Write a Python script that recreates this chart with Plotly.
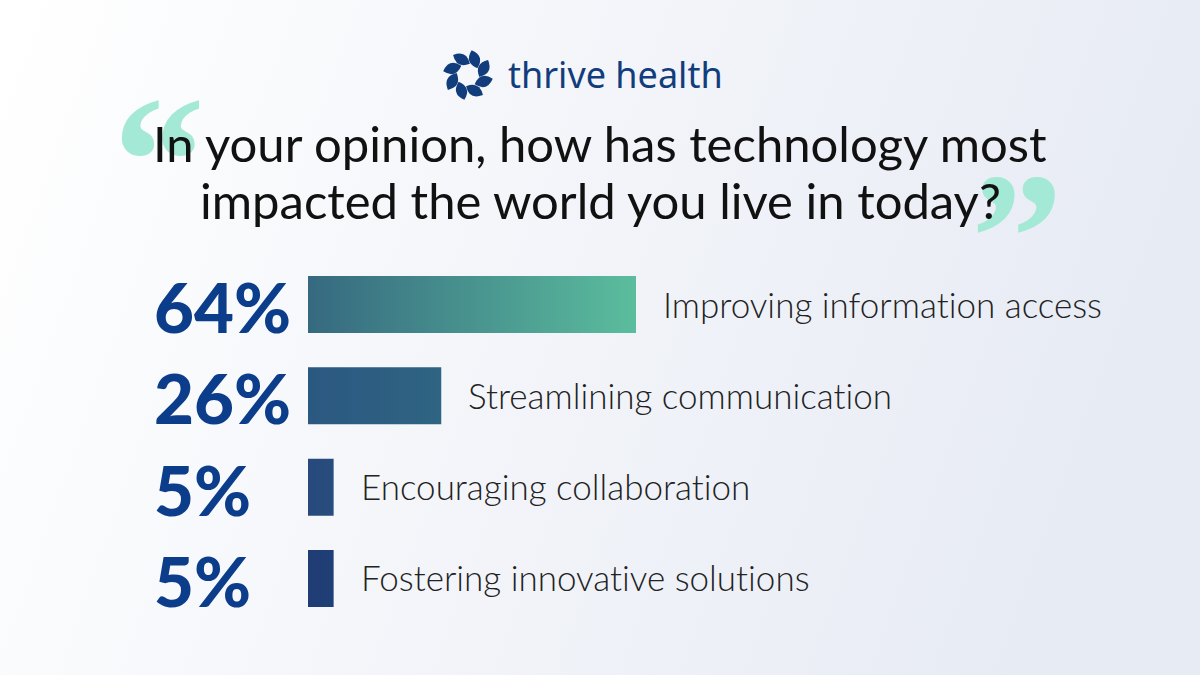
import base64, math
import plotly.graph_objects as go

# ---- data ----
categories = ["Improving information access", "Streamlining communication",
              "Encouraging collaboration", "Fostering innovative solutions"]
values = [64, 26, 5, 5]
value_labels = ["64%", "26%", "5%", "5%"]
title_lines = ["In your opinion, how has technology most",
               "impacted the world you live in today?"]
brand = "thrive health"

# ---- styles ----
W, H = 1200, 675
bar_grad = [("#366980", "#5bbd9d"), ("#2b5881", "#2f6482"),
            ("#27497c", "#284d7c"), ("#1f3c74", "#203f76")]
navy = "#0c3d8a"
half = 0.312

def no_lig(s):
    # break the Lato "ti" ligature so the text renders like the reference
    return s.replace("ti", "t\u200ci")

fig = go.Figure()

for i, (v, cat) in enumerate(zip(values, categories)):
    c0, c1 = bar_grad[i]
    fig.add_trace(go.Scatter(
        x=[0, v, v, 0, 0], y=[i - half, i - half, i + half, i + half, i - half],
        mode="lines", line=dict(width=0), fill="toself",
        fillgradient=dict(type="horizontal", colorscale=[[0, c0], [1, c1]]),
        hoverinfo="skip", showlegend=False))

ann = []
# big quotes (behind title)
ann.append(dict(x=111 / W, y=1 - 57 / H, xref="paper", yref="paper", text="\u201c",
                showarrow=False, xanchor="left", yanchor="top",
                font=dict(family="Liberation Serif", size=184, color="#a3e9d5", weight=700)))
ann.append(dict(x=969 / W, y=1 - 134 / H, xref="paper", yref="paper", text="\u201d",
                showarrow=False, xanchor="left", yanchor="top",
                font=dict(family="Liberation Serif", size=184, color="#a3e9d5", weight=700)))
# title
for k, line in enumerate(title_lines):
    ann.append(dict(x=0.5, y=1 - (143 + 57 * k) / H, xref="paper", yref="paper",
                    text=line, showarrow=False, xanchor="center", yanchor="middle",
                    font=dict(family="Lato", size=49, color="#111111")))
# brand text
ann.append(dict(x=506 / W, y=1 - 74 / H, xref="paper", yref="paper", text=brand,
                showarrow=False, xanchor="left", yanchor="middle",
                font=dict(family="Noto Sans", size=36, color="#123d7c", weight=400)))

for i, (v, cat, lab) in enumerate(zip(values, categories, value_labels)):
    ann.append(dict(x=152 / W, xref="paper", y=i, yref="y", text=lab, showarrow=False,
                    xanchor="left", yanchor="middle", yshift=-2,
                    font=dict(family="Lato", size=69, color=navy, weight=900)))
    ann.append(dict(x=v, xref="x", y=i, yref="y", text=no_lig(cat), showarrow=False,
                    xanchor="left", yanchor="middle", xshift=25, yshift=1,
                    font=dict(family="Lato", size=35, color="#222222", weight=300)))

# logo icon leaves
shapes = []
cx, cy = 468, 75
def P(px, py):
    return f"{px / W:.5f},{1 - py / H:.5f}"
for k in range(8):
    a = math.radians(k * 45 + 22.5)
    mx, my = cx + 17 * math.cos(a), cy - 17 * math.sin(a)
    d = a + math.radians(40)
    ux, uy = math.cos(d), -math.sin(d)
    px_, py_ = -uy, ux
    L, Wd = 9.5, 11
    t1 = (mx + L * ux, my + L * uy)
    t2 = (mx - L * ux, my - L * uy)
    q1 = (mx + Wd * px_, my + Wd * py_)
    q2 = (mx - Wd * px_, my - Wd * py_)
    path = f"M{P(*t1)} Q{P(*q1)} {P(*t2)} Q{P(*q2)} {P(*t1)} Z"
    shapes.append(dict(type="path", xref="paper", yref="paper", path=path,
                       fillcolor="#123d7c", line=dict(width=0)))

svg = ("<svg xmlns='http://www.w3.org/2000/svg' width='1200' height='675'>"
       "<defs><linearGradient id='g' x1='0' y1='0' x2='1' y2='0.2'>"
       "<stop offset='0' stop-color='#ffffff'/><stop offset='1' stop-color='#e7ebf4'/>"
       "</linearGradient></defs><rect width='1200' height='675' fill='url(#g)'/></svg>")
src = "data:image/svg+xml;base64," + base64.b64encode(svg.encode()).decode()

px_per = 5.125
fig.update_layout(
    width=W, height=H, margin=dict(l=0, r=0, t=0, b=0),
    paper_bgcolor="#f3f5f9", plot_bgcolor="rgba(0,0,0,0)",
    xaxis=dict(range=[-308 / px_per, (W - 308) / px_per], visible=False, fixedrange=True),
    yaxis=dict(range=[-304.5 / 91.33 + H / 91.33, -304.5 / 91.33], visible=False, fixedrange=True),
    annotations=ann, shapes=shapes,
    images=[dict(source=src, xref="paper", yref="paper", x=0, y=1, sizex=1, sizey=1,
                 sizing="stretch", layer="below", xanchor="left", yanchor="top")],
    showlegend=False,
)
fig.write_html("out.html", config={"displayModeBar": False},
               post_script="document.body.style.margin='0';document.body.style.overflow='hidden';")
